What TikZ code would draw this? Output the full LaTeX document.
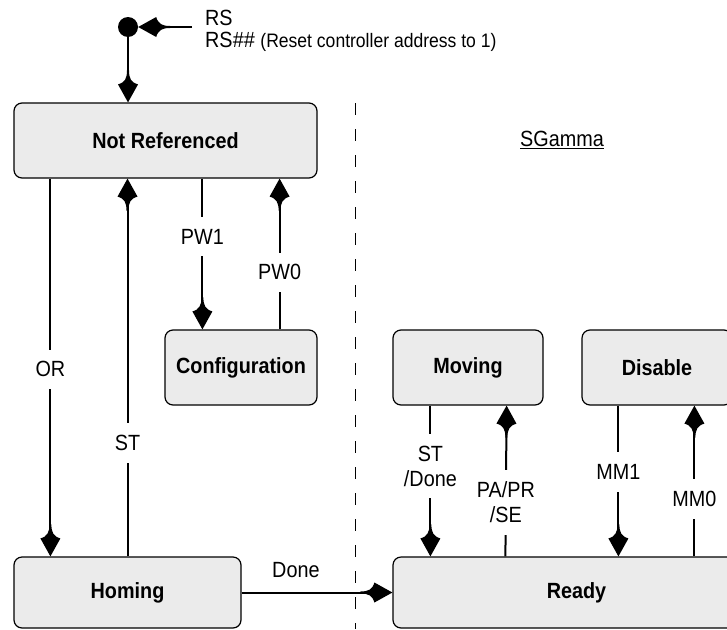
\documentclass[tikz,border=0pt]{standalone}
\usepackage{fontspec}
\setmainfont{Liberation Sans}[FakeStretch=0.9]
\usetikzlibrary{arrows.meta,positioning}

% slim dart head with a concave tail
\pgfdeclarearrow{
  name=SDart,
  setup code={
    \pgfarrowssettipend{0pt}
    \pgfarrowssetbackend{-32pt}
    \pgfarrowssetlineend{-20pt}
    \pgfarrowshullpoint{0pt}{0pt}
    \pgfarrowshullpoint{-18pt}{10pt}
    \pgfarrowshullpoint{-18pt}{-10pt}
    \pgfarrowshullpoint{-32pt}{0pt}
  },
  drawing code={
    \pgfpathmoveto{\pgfpoint{0pt}{0pt}}
    \pgfpathlineto{\pgfpoint{-18pt}{10pt}}
    \pgfpathcurveto{\pgfpoint{-20pt}{3pt}}{\pgfpoint{-24pt}{1pt}}{\pgfpoint{-32pt}{1pt}}
    \pgfpathlineto{\pgfpoint{-32pt}{-1pt}}
    \pgfpathcurveto{\pgfpoint{-24pt}{-1pt}}{\pgfpoint{-20pt}{-3pt}}{\pgfpoint{-18pt}{-10pt}}
    \pgfpathclose
    \pgfusepathqfill
  }
}

\begin{document}
\begin{tikzpicture}[
    x=1pt, y=-1pt,
    font=\fontsize{22}{25}\selectfont,
    state/.style={rectangle, draw, line width=1.2pt, fill=black!8, rounded corners=8pt, minimum height=75pt, font=\fontsize{22}{25}\selectfont\bfseries},
    arrow/.style={-{SDart[]}, line width=2pt},
    lbl/.style={fill=white, inner xsep=2pt, inner ysep=12pt, align=center}
]
\useasboundingbox (0,0) rectangle (727,629);

% Reset entry
\node[circle, fill, inner sep=0pt, minimum size=20pt] (reset) at (128,27) {};
\node[anchor=base west, inner sep=0pt] (rs) at (205,25) {RS};
\node[anchor=base west, inner sep=0pt] (rshash) at (205,47) {RS\textit{\#\#} {\fontsize{19.5}{22}\selectfont (Reset controller address to 1)}};
\coordinate (rsin) at (192,27);

% States - left
\node[state, minimum width=303pt] (notref) at (165.5,140.5) {Not Referenced};
\node[state, minimum width=152pt] (config) at (241,367.5) {Configuration};
\node[state, minimum width=227pt, minimum height=71pt] (homing) at (127.5,592.5) {Homing};

% States - right (SGamma)
\node (sgamma) at (562,140) {\underline{SGamma}};
\node[state, minimum width=150pt] (moving) at (468,367.5) {Moving};
\node[state, minimum width=150pt] (disable) at (657,367.5) {Disable};
\node[state, minimum width=367pt, minimum height=71pt] (ready) at (576.5,592.5) {Ready};

% Divider
\coordinate (divtop) at (355,103);
\coordinate (divbot) at (355,629);
\draw[line width=1pt, dash pattern=on 12pt off 14pt] (divtop) -- (divbot);

% Arrows
\draw[arrow] (rsin) -- (reset);
\draw[arrow] (reset) -- (reset |- notref.north);
\draw[arrow] ([xshift=37pt]notref.south west) -- node[lbl, pos=0.505] {OR} ([xshift=37pt]homing.north west);
\draw[arrow] (homing.north) -- node[lbl, pos=0.3] {ST} (homing.north |- notref.south);
\draw[arrow] ([xshift=38pt]notref.south west) ++(151pt,0) -- node[lbl, pos=0.385] {PW1} ([xshift=38pt]config.north west);
\draw[arrow] ([xshift=-38pt]config.north east) -- node[lbl, pos=0.378] {PW0} ([xshift=-38pt]notref.south east);
\draw[arrow] (homing) -- node[above=10pt, pos=0.36] {Done} (ready);
\draw[arrow] ([xshift=38pt]moving.south west) -- node[lbl, pos=0.4] {ST\\/Done} ([xshift=38pt]ready.north west);
\draw[arrow] ([xshift=113pt]ready.north west) -- node[lbl, pos=0.36] {PA/PR\\/SE} ([xshift=-37pt]moving.south east);
\draw[arrow] ([xshift=37pt]disable.south west) -- node[lbl, pos=0.44] {MM1} ([xshift=226pt]ready.north west);
\draw[arrow] ([xshift=302pt]ready.north west) -- node[lbl, pos=0.38] {MM0} ([xshift=113pt]disable.south west);

\end{tikzpicture}
\end{document}
